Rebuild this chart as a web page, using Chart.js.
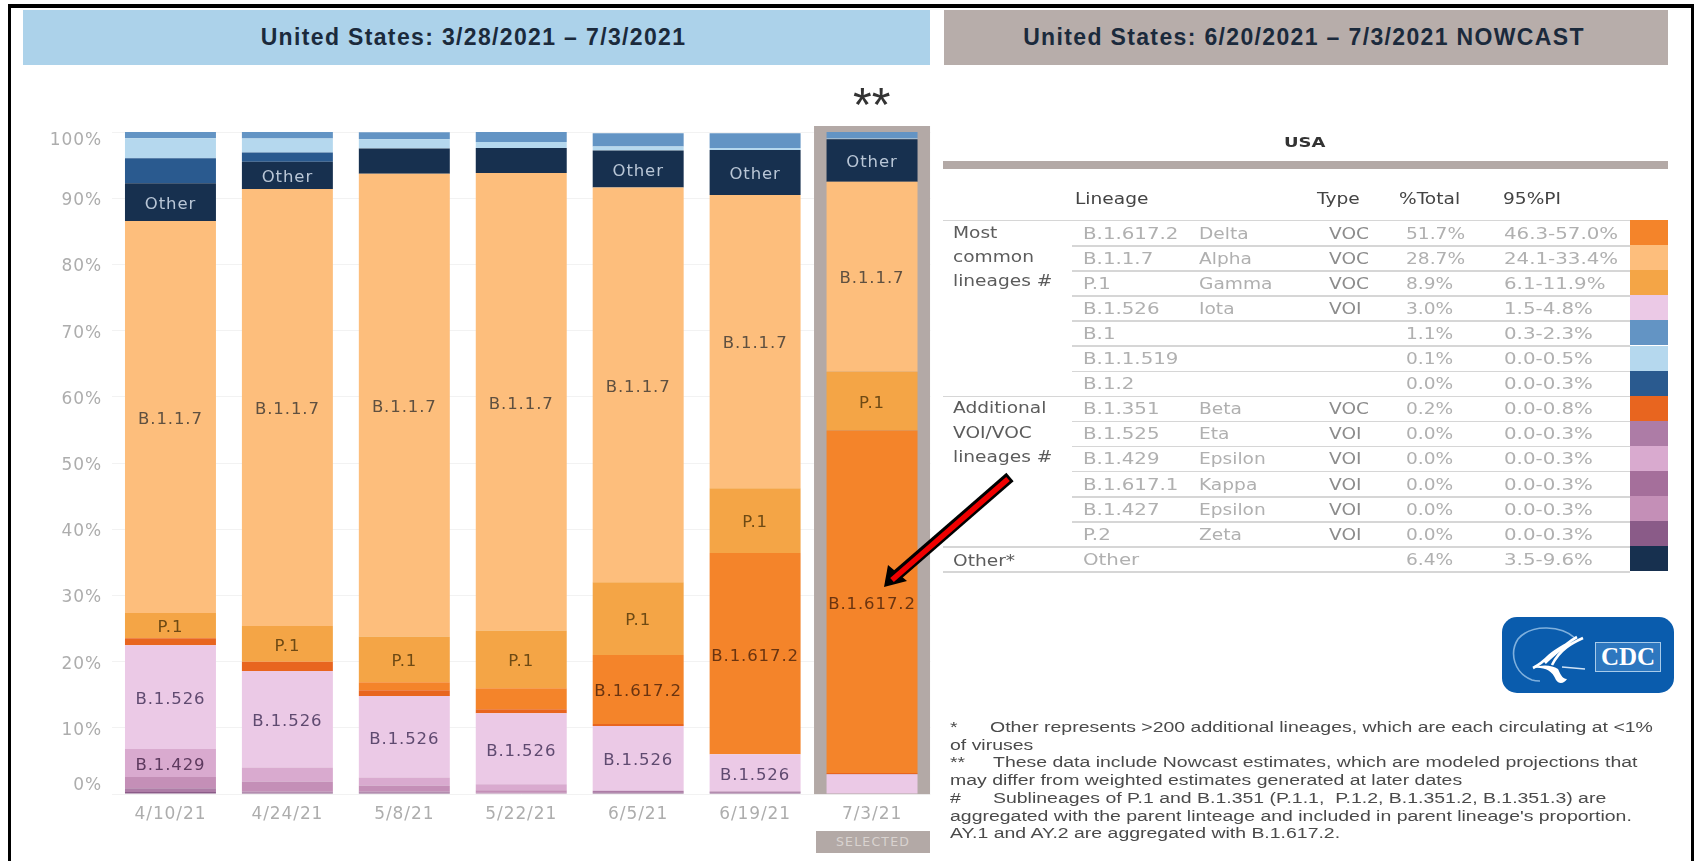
<!DOCTYPE html>
<html><head><meta charset="utf-8">
<script src="https://cdn.jsdelivr.net/npm/chart.js@4"></script>
<style>
html,body{margin:0;padding:0;background:#fff;width:1694px;height:861px;overflow:hidden}
#stage{position:relative;width:1694px;height:861px;overflow:hidden}
canvas{position:absolute;left:0;top:0}
.abs{position:absolute;white-space:pre}
.t{position:absolute;white-space:pre;font-family:"DejaVu Sans";font-size:15px;line-height:18px;transform-origin:left center;transform:translateY(-50%) scaleX(1.24);color:#a9a9a9}
.band{position:absolute;top:10px;height:55px;display:flex;align-items:center;justify-content:center;font:bold 23px "Liberation Sans";color:#1b2a3c;letter-spacing:1.35px;box-sizing:border-box}
.r{position:absolute;background:#d6d6d6;height:1.5px}
.fn{position:absolute;white-space:pre;font:15.5px "Liberation Sans";color:#4a4a4a;transform-origin:left center;transform:translateY(-50%) scaleX(1.255)}
</style></head><body>
<div id="stage">
<canvas id="c" width="1694" height="861"></canvas>
<div class="abs" style="left:8px;top:4px;right:0;height:4px;background:#000"></div>
<div class="abs" style="left:8px;top:4px;width:3px;height:857px;background:#000"></div>
<div class="abs" style="left:1691px;top:4px;width:3px;height:857px;background:#000"></div>
<div class="band" style="left:23px;width:907px;background:#acd2ea;padding-right:6px">United States: 3/28/2021 – 7/3/2021</div>
<div class="band" style="left:944px;width:724px;background:#b7adaa;padding-right:4px">United States: 6/20/2021 – 7/3/2021 NOWCAST</div>
<div class="abs" style="left:853px;top:77px;font:48px 'Liberation Sans';color:#333">**</div>
<div class="abs" style="left:816px;top:831px;width:114px;height:22px;background:#b3a9a6;color:#d9d3d0;font:12.5px 'DejaVu Sans';letter-spacing:1.2px;line-height:22px;text-align:center">SELECTED</div>
<div id="tbl"></div>
<div id="notes"></div>
<svg class="abs" style="left:1502px;top:617px" width="172" height="76" viewBox="0 0 172 76">
<rect width="172" height="76" rx="15" fill="#0a5cad"/>
<path d="M73 21C60 9 30 6 16 22C7 36 12 56 30 63C33 64 36 64 38 64" fill="none" stroke="#7fb0dd" stroke-width="1.6"/>
<path d="M81 21C70 26 58 32 50 48M75 20C64 26 56 34 43 46M68 25C60 30 54 33 48 38C42 44 37 48 31 51" fill="none" stroke="#fff" stroke-width="2.6"/>
<path d="M31 51C42 50 50 53 54 63C57 68 63 66 65 62C60 62 58 56 56 52C50 48 40 47 31 51Z" fill="#fff"/>
<path d="M60 50L83 52" stroke="#cfe2f5" stroke-width="1.5"/>
<rect x="93.500" y="25.500" width="65" height="29" fill="#2d77bf" stroke="#a8cbea"/>
<text x="126" y="48" text-anchor="middle" font-family="Liberation Serif" font-weight="bold" font-size="25" fill="#fff">CDC</text>
</svg>
<svg class="abs" style="left:0;top:0;pointer-events:none" width="1694" height="861">
<line x1="1010" y1="477" x2="896" y2="576" stroke="#000" stroke-width="11"/>
<polygon points="884,587 888,565 907,581" fill="#000"/>
<line x1="1008" y1="479" x2="892" y2="580" stroke="#f00000" stroke-width="5.500"/>
</svg>
</div>
<script>
const dates = ["4/10/21","4/24/21","5/8/21","5/22/21","6/5/21","6/19/21","7/3/21"];
const yTicks = [0,10,20,30,40,50,60,70,80,90,100];

// series values, % per date, bottom of the stack first
const sP2      = [0.3,0.2,0.2,0.1,0.2,0.2,0];
const sB1525   = [0.6,0.2,0.2,0.1,0.3,0.2,0];
const sB1427   = [1.7,1.5,0.9,0.4,0,0,0];
const sB1429   = [4.2,2.1,1.2,0.9,0,0,0];
const sB1526   = [15.7,14.6,12.3,10.7,9.8,5.6,3.0];
const sB1351   = [1.05,1.4,0.9,0.6,0.3,0,0.2];
const sB16172  = [0,0,1.2,3.2,10.4,30.4,51.7];
const sP1      = [3.8,5.4,6.9,8.7,11,9.8,8.9];
const sB117    = [59.2,66,69.9,69.1,59.6,44.3,28.7];
const sOther   = [5.7,4.1,3.8,3.8,5.6,6.8,6.4];
const sB12     = [3.8,1.4,0,0,0,0,0];
const sB11519  = [3.0,2.1,1.4,0.9,0.6,0.3,0.1];
const sB1      = [0.95,1.05,1.05,1.5,2.0,2.2,1.1];

// colours
const cP2="#8a5b88",cB1525="#ad7ca6",cB1427="#c48fb7",cB1429="#d9aacf",cB1526="#ebc9e6",cB1351="#e8651f",
      cB16172="#f4842a",cP1="#f4a546",cB117="#fdbe7c",cOther="#17304f",cB12="#2a5a8f",cB11519="#b5d8ee",cB1="#6394c4",cKappa="#a56f9b";

// which segments carry a text label (one flag per date)
const showP1     = [1,1,1,1,1,1,1];
const showB117   = [1,1,1,1,1,1,1];
const showB16172 = [0,0,0,0,1,1,1];
const showB1526  = [1,1,1,1,1,1,0];
const showB1429  = [1,0,0,0,0,0,0];
const showOther  = [1,1,0,0,1,1,1];

const mk=(label,data,color,show,txt)=>({label,data,backgroundColor:color,borderWidth:0,stack:"s",barPercentage:0.778,categoryPercentage:1,show,txt});
const datasets=[
 mk("P.2",sP2,cP2),
 mk("B.1.525",sB1525,cB1525),
 mk("B.1.427",sB1427,cB1427),
 mk("B.1.429",sB1429,cB1429,showB1429,"#5d3a5e"),
 mk("B.1.526",sB1526,cB1526,showB1526,"#5f4a70"),
 mk("B.1.351",sB1351,cB1351),
 mk("B.1.617.2",sB16172,cB16172,showB16172,"#6a3410"),
 mk("P.1",sP1,cP1,showP1,"#6e4a14"),
 mk("B.1.1.7",sB117,cB117,showB117,"#5f5040"),
 mk("Other",sOther,cOther,showOther,"#b9c6d6"),
 mk("B.1.2",sB12,cB12),
 mk("B.1.1.519",sB11519,cB11519),
 mk("B.1",sB1,cB1)
];

const frame={id:"frame",beforeDraw(ch){ch.ctx.letterSpacing="0.9px";},
 beforeDatasetsDraw(ch){
  const x=ch.scales.x,y=ch.scales.y,c=ch.ctx,cx=x.getPixelForValue(dates.length-1);
  c.save();c.fillStyle="#b3a9a6";c.fillRect(cx-58,y.getPixelForValue(100)-6,116,y.getPixelForValue(0)-y.getPixelForValue(100)+6);c.restore();
 },
 afterDatasetsDraw(ch){
  const c=ch.ctx,y=ch.scales.y;
  c.save();c.font='16.5px "DejaVu Sans"';c.textAlign="center";c.textBaseline="middle";
  ch.data.datasets.forEach((d,i)=>{ if(!d.show) return;
   ch.getDatasetMeta(i).data.forEach((b,j)=>{ if(!d.show[j]) return;
    c.fillStyle=d.txt;c.fillText(d.label,b.x,(b.y+b.base)/2+2.5);
   });
  });
  // value-axis labels: the end ones sit inside the axis range
  c.font='17px "DejaVu Sans"';c.textAlign="right";c.fillStyle="#adadad";
  y.ticks.forEach((t,i)=>{
   let py=y.getPixelForTick(i)+2.5;
   if(t.value===100) py+=6; if(t.value===0) py-=11;
   c.fillText(t.label,102,py);
  });
  c.restore();
 }};

new Chart(document.getElementById("c"),{type:"bar",
 data:{labels:dates,datasets},
 plugins:[frame],
 options:{responsive:false,animation:false,
  layout:{padding:{left:112,right:763.5,top:132,bottom:34.5}},
  plugins:{legend:{display:false},tooltip:{enabled:false},title:{display:false}},
  scales:{
   x:{stacked:true,grid:{display:false},border:{display:false},
      ticks:{color:"#adadad",font:{family:"DejaVu Sans",size:17},padding:2,maxRotation:0,autoSkip:false}},
   y:{stacked:true,min:0,max:100,grid:{color:"#f2f2f2",drawTicks:false},border:{display:false},
      afterBuildTicks(s){s.ticks=yTicks.map(v=>({value:v}));},
      ticks:{display:false,callback:v=>v+"%"}}
  }}});

// table
const tblLineage=["B.1.617.2","B.1.1.7","P.1","B.1.526","B.1","B.1.1.519","B.1.2","B.1.351","B.1.525","B.1.429","B.1.617.1","B.1.427","P.2","Other"];
const tblName=["Delta","Alpha","Gamma","Iota","","","","Beta","Eta","Epsilon","Kappa","Epsilon","Zeta",""];
const tblType=["VOC","VOC","VOC","VOI","","","","VOC","VOI","VOI","VOI","VOI","VOI",""];
const tblTotal=["51.7%","28.7%","8.9%","3.0%","1.1%","0.1%","0.0%","0.2%","0.0%","0.0%","0.0%","0.0%","0.0%","6.4%"];
const tblPI=["46.3-57.0%","24.1-33.4%","6.1-11.9%","1.5-4.8%","0.3-2.3%","0.0-0.5%","0.0-0.3%","0.0-0.8%","0.0-0.3%","0.0-0.3%","0.0-0.3%","0.0-0.3%","0.0-0.3%","3.5-9.6%"];
const tblColor=[cB16172,cB117,cP1,cB1526,cB1,cB11519,cB12,cB1351,cB1525,cB1429,cKappa,cB1427,cP2,cOther];
const tblGroups=[["Most",233],["common",257],["lineages #",281],["Additional",408],["VOI/VOC",433],["lineages #",457],["Other*",561]];
const tblHead=[["Lineage",1075],["Type",1317],["%Total",1399],["95%PI",1503]];

let h='';
const txt=(s,x,y,col,extra='')=>`<div class="t" style="left:${x}px;top:${y}px;color:${col};${extra}">${s}</div>`;
const wide='transform:translateY(-50%) scaleX(1.32);';
const rule=(x1,x2,y,col)=>`<div class="r" style="left:${x1}px;width:${x2-x1}px;top:${y}px;${col?'background:'+col:''}"></div>`;
h+=txt("USA",1284,141.5,"#333","font-weight:bold;font-size:14.5px;");
h+=`<div class="abs" style="left:943px;top:161px;width:725px;height:8px;background:#b3a9a6"></div>`;
tblHead.forEach(a=>h+=txt(a[0],a[1],199,"#444"));
h+=rule(943,1668,219.5);
tblGroups.forEach(a=>h+=txt(a[0],953,a[1],"#5c5c5c"));
tblLineage.forEach((l,i)=>{
 const top=220+i*25.1, mid=top+13.5;
 h+=txt(l,1082.5,mid,"#b0b0b0",wide);
 if(tblName[i]) h+=txt(tblName[i],1199,mid,"#b0b0b0");
 if(tblType[i]) h+=txt(tblType[i],1329,mid,"#8c8c8c");
 h+=txt(tblTotal[i],1406,mid,"#b0b0b0");
 h+=txt(tblPI[i],1503.5,mid,"#b0b0b0",wide);
 h+=`<div class="abs" style="left:1630px;top:${top}px;width:38px;height:25px;background:${tblColor[i]}"></div>`;
 const full=(i===6||i===12||i===13);
 h+=rule(full?943:1072,1630,top+25);
});
document.getElementById("tbl").innerHTML=h;

// footnotes
const noteLines=[["*",949.5,727],["Other represents >200 additional lineages, which are each circulating at <1%",989.5,727],
["of viruses",949.5,745],["**",949.5,762],["These data include Nowcast estimates, which are modeled projections that",993,762],
["may differ from weighted estimates generated at later dates",949.5,780],["#",949.5,798],
["Sublineages of P.1 and B.1.351 (P.1.1,  P.1.2, B.1.351.2, B.1.351.3) are",993,798],
["aggregated with the parent linteage and included in parent lineage's proportion.",949.5,816],
["AY.1 and AY.2 are aggregated with B.1.617.2.",949.5,833]];
document.getElementById("notes").innerHTML=noteLines.map(n=>`<div class="fn" style="left:${n[1]}px;top:${n[2]}px">${n[0].replace(/</g,'&lt;').replace(/>/g,'&gt;')}</div>`).join('');
</script>
</body></html>
